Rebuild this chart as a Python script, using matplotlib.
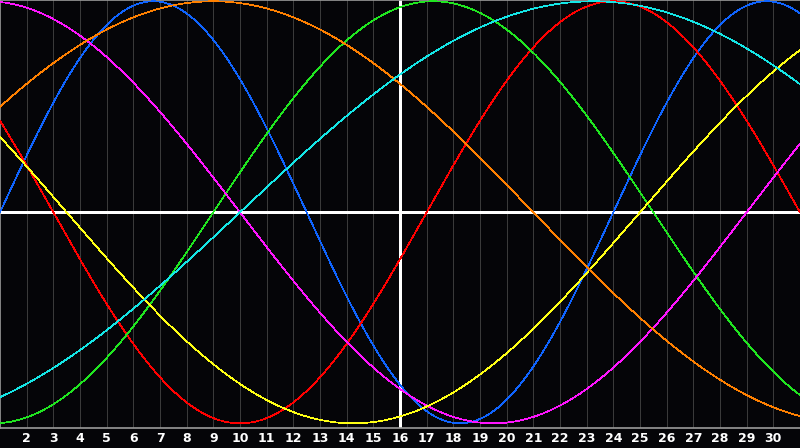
import numpy as np
import matplotlib
matplotlib.use("Agg")
import matplotlib.pyplot as plt

# --- Chart data --- #
first_day = 1
last_day = 31
today = 16
tick_days = list(range(2, 31))
tick_labels = [str(d) for d in tick_days]

# Biorhythm cycles: period length (days) and day of the upward zero crossing
cycle_names = ["physical", "emotional", "intellectual", "intuitive",
               "aesthetic", "awareness", "spiritual"]
cycle_periods = [23, 28, 33, 38, 43, 48, 53]
cycle_rise_day = [1.0, 17.0, 9.0, 29.0, 25.0, -3.0, 10.0]
cycle_colors = ["#0f64ff", "#ff0000", "#20e620", "#ff14ff",
                "#ffff14", "#ff8000", "#14e6e6"]


def main():
    px = 1 / 100
    fig = plt.figure(figsize=(800 * px, 448 * px), dpi=100, facecolor="#050508")
    ax = fig.add_axes([0.0, 20 / 448, 1.0, 428 / 448])
    ax.set_facecolor("#050508")

    days = np.linspace(first_day, last_day, 1201)

    # day grid
    for d in tick_days:
        ax.axvline(d, color="#3a3a3a", lw=0.5, antialiased=False, zorder=1)

    for period, rise, color in zip(cycle_periods, cycle_rise_day, cycle_colors):
        vals = np.sin(2 * np.pi * (days - rise) / period)
        ax.plot(days, vals, color=color, lw=0.5, antialiased=False, zorder=3)

    ax.axhline(0, color="white", lw=0.75, antialiased=False, zorder=2)
    ax.axvline(today, color="white", lw=0.75, antialiased=False, zorder=2)

    ax.set_xlim(first_day, last_day)
    ax.set_ylim(-1.022, 1.006)

    ax.set_xticks(tick_days)
    ax.set_xticklabels(tick_labels, color="white", fontsize=9, fontweight="bold",
                       family="DejaVu Sans")
    for lab, d in zip(ax.get_xticklabels(), tick_days):
        if d < 10:
            lab.set_x(d - 0.1)
    ax.tick_params(axis="x", length=0, pad=3)
    ax.set_yticks([])

    for side in ["left", "top", "bottom"]:
        ax.spines[side].set_color("#9a9a9a")
        ax.spines[side].set_linewidth(1.2)
    ax.spines["right"].set_visible(False)

    fig.savefig("out.png", dpi=100, facecolor=fig.get_facecolor())


if __name__ == "__main__":
    main()
